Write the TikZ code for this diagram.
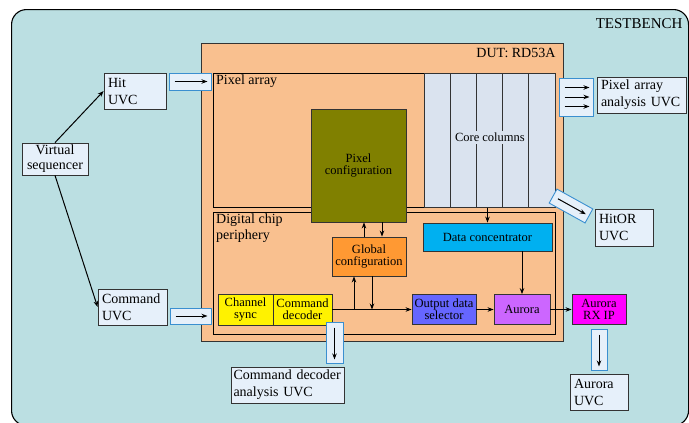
\documentclass[tikz,border=0pt]{standalone}
\usepackage{fontspec}
\setmainfont{Liberation Serif}
\usepackage{xcolor}
\usetikzlibrary{arrows.meta,positioning}

\definecolor{tbfill}{HTML}{BBDFE2}
\definecolor{peach}{HTML}{F9C08F}
\definecolor{uvcfill}{HTML}{E6F0FA}
\definecolor{arrblue}{HTML}{3A8FD0}
\definecolor{corefill}{HTML}{DAE3EF}
\definecolor{pixolive}{HTML}{808000}
\definecolor{globorange}{HTML}{FF9933}
\definecolor{odsblue}{HTML}{6666FF}
\definecolor{aurpurple}{HTML}{CC66FF}
\definecolor{dccyan}{HTML}{00B0F0}
\definecolor{rxmagenta}{HTML}{FF00FF}

\begin{document}
\begin{tikzpicture}[x=1pt, y=-1pt,
      >={Stealth[length=6pt,width=4.5pt]},
      box/.style={draw=black!80, line width=0.8pt, inner sep=0pt},
      blk/.style={box, align=center, font=\fontsize{12.5}{12}\selectfont},
      uvc/.style={box, fill=uvcfill, align=left, inner xsep=4pt,
        font=\fontsize{14}{17}\selectfont, minimum height=36pt},
      lbl/.style={inner xsep=3pt, inner ysep=2pt, align=left,
        font=\fontsize{14}{16}\selectfont},
      arrbox/.style={draw=arrblue, fill=uvcfill, line width=0.9pt, inner sep=0pt},
      sig/.style={->, line width=1pt},
      inarr/.style={->, line width=1pt, shorten <=6pt, shorten >=4pt}]
    \useasboundingbox (0,0) rectangle (689,423);

    % testbench and DUT
    \node[box, draw=black, line width=1.1pt, rounded corners=15pt, fill=tbfill,
      minimum width=677pt, minimum height=416pt, anchor=north west] (tb) at (11,9) {};
    \node[anchor=east, font=\fontsize{15}{18}\selectfont] (tblabel) at (686,24) {TESTBENCH};
    \node[box, fill=peach, minimum width=362pt, minimum height=298pt,
      anchor=north west] (dut) at (201,43) {};
    \node[anchor=east, font=\fontsize{14}{17}\selectfont] (dutlabel) at (559,53) {DUT: RD53A};

    % pixel array
    \node[box, draw=black, fill=peach, minimum width=342pt, minimum height=134pt,
      anchor=north west] (pixarr) at (213,73) {};
    \node[lbl, anchor=north west] (pixarrlabel) at (pixarr.north west) {Pixel array};
    \node[box, fill=corefill, minimum width=131pt, minimum height=134pt,
      anchor=north west] (cores) at (424,73) {};
    \foreach \i in {1,...,4}
      \draw[black!80, line width=0.8pt] ([xshift=\i*26.2pt]cores.north west)
        -- ([xshift=\i*26.2pt]cores.south west);
    \node[fill=corefill, inner sep=2pt, font=\fontsize{12.5}{12}\selectfont]
      (corelabel) at ([yshift=3pt]cores.center) {Core columns};

    % digital chip periphery
    \node[box, draw=black, fill=peach, minimum width=342pt, minimum height=122pt,
      anchor=north west] (dig) at (213,212) {};
    \node[lbl, anchor=north west] (diglabel) at (dig.north west) {Digital chip\\periphery};

    \node[blk, fill=pixolive, minimum width=95pt, minimum height=113pt] (pixconf)
      at (358.5,165.5) {Pixel\\configuration};
    \node[blk, fill=globorange, minimum width=74pt, minimum height=39pt] (glob)
      at (369,256.5) {Global\\configuration};
    \node[blk, fill=dccyan, minimum width=129pt, minimum height=28pt] (datcon)
      at (487.5,237) {Data concentrator};
    \node[blk, fill=yellow, minimum width=55pt, minimum height=31pt] (chsync)
      at (245.5,309.5) {Channel\\sync};
    \node[blk, fill=yellow, minimum width=59pt, minimum height=31pt] (cmddec)
      at (302.5,309.5) {Command\\decoder};
    \node[blk, fill=odsblue, minimum width=64pt, minimum height=30pt] (ods)
      at (444,309.5) {Output data\\selector};
    \node[blk, fill=aurpurple, minimum width=56pt, minimum height=30pt] (aurora)
      at (522,309.5) {Aurora};
    \node[blk, fill=rxmagenta, minimum width=54pt, minimum height=30pt] (rxip)
      at (599,309.5) {Aurora\\RX IP};

    % UVCs
    \node[box, fill=uvcfill, align=center, font=\fontsize{14}{15}\selectfont,
      minimum width=66pt, minimum height=32pt] (vseq) at (55,159) {Virtual\\sequencer};
    \node[uvc, text width=54pt] (hituvc) at (135,91) {Hit\\UVC};
    \node[uvc, text width=61pt] (cmduvc) at (132.5,307) {Command\\UVC};
    \node[uvc, text width=81pt] (pauvc) at (641.5,95) {Pixel array\\analysis UVC};
    \node[uvc, text width=50pt, minimum height=37pt] (hitoruvc) at (624,227.5) {HitOR\\UVC};
    \node[uvc, text width=108pt, inner xsep=2.5pt] (cdauvc) at (287.5,385) {Command decoder\\analysis UVC};
    \node[uvc, text width=50pt] (auruvc) at (599,392) {Aurora\\UVC};

    % interface boxes
    \node[arrbox, minimum width=42pt, minimum height=17pt] (hitarr) at (190,81.5) {};
    \node[arrbox, minimum width=41pt, minimum height=16pt] (cmdarr) at (190.5,316) {};
    \node[arrbox, minimum width=34pt, minimum height=38pt] (paarr) at (576,97) {};
    \node[arrbox, minimum width=41pt, minimum height=16pt, rotate=-29] (orarr) at (571,206) {};
    \node[arrbox, minimum width=17pt, minimum height=41pt] (cdarr) at (334.5,342.5) {};
    \node[arrbox, minimum width=16pt, minimum height=41pt] (rxarr) at (599,349.5) {};

    \draw[inarr] (hitarr.west) -- (hitarr.east);
    \draw[inarr] (cmdarr.west) -- (cmdarr.east);
    \foreach \dy in {-9.5,0,9.5}
      \draw[inarr] ([yshift=\dy pt]paarr.west) -- ([yshift=\dy pt]paarr.east);
    \draw[inarr] (orarr.west) -- (orarr.east);
    \draw[inarr] (cdarr.north) -- (cdarr.south);
    \draw[inarr] (rxarr.north) -- (rxarr.south);

    % connections
    \draw[sig] (vseq.north) -- (hituvc.west);
    \draw[sig] (vseq.south) -- (cmduvc.west);
    \draw[sig] ([xshift=-5pt]glob.north) -- ([xshift=-5pt]glob.north |- pixconf.south);
    \draw[sig] ([xshift=13pt]glob.north |- pixconf.south) -- ([xshift=13pt]glob.north);
    \draw[sig] (cmddec.east) -- (ods.west);
    \draw[sig] ([xshift=-15pt]glob.south |- cmddec.east) -- ([xshift=-15pt]glob.south);
    \draw[sig] ([xshift=3pt]glob.south) -- ([xshift=3pt]glob.south |- cmddec.east);
    \draw[sig] (datcon.north |- cores.south) -- (datcon.north);
    \draw[sig] (aurora.north |- datcon.south) -- (aurora.north);
    \draw[sig] (ods.east) -- (aurora.west);
    \draw[sig] (aurora.east) -- (rxip.west);
  \end{tikzpicture}
\end{document}
